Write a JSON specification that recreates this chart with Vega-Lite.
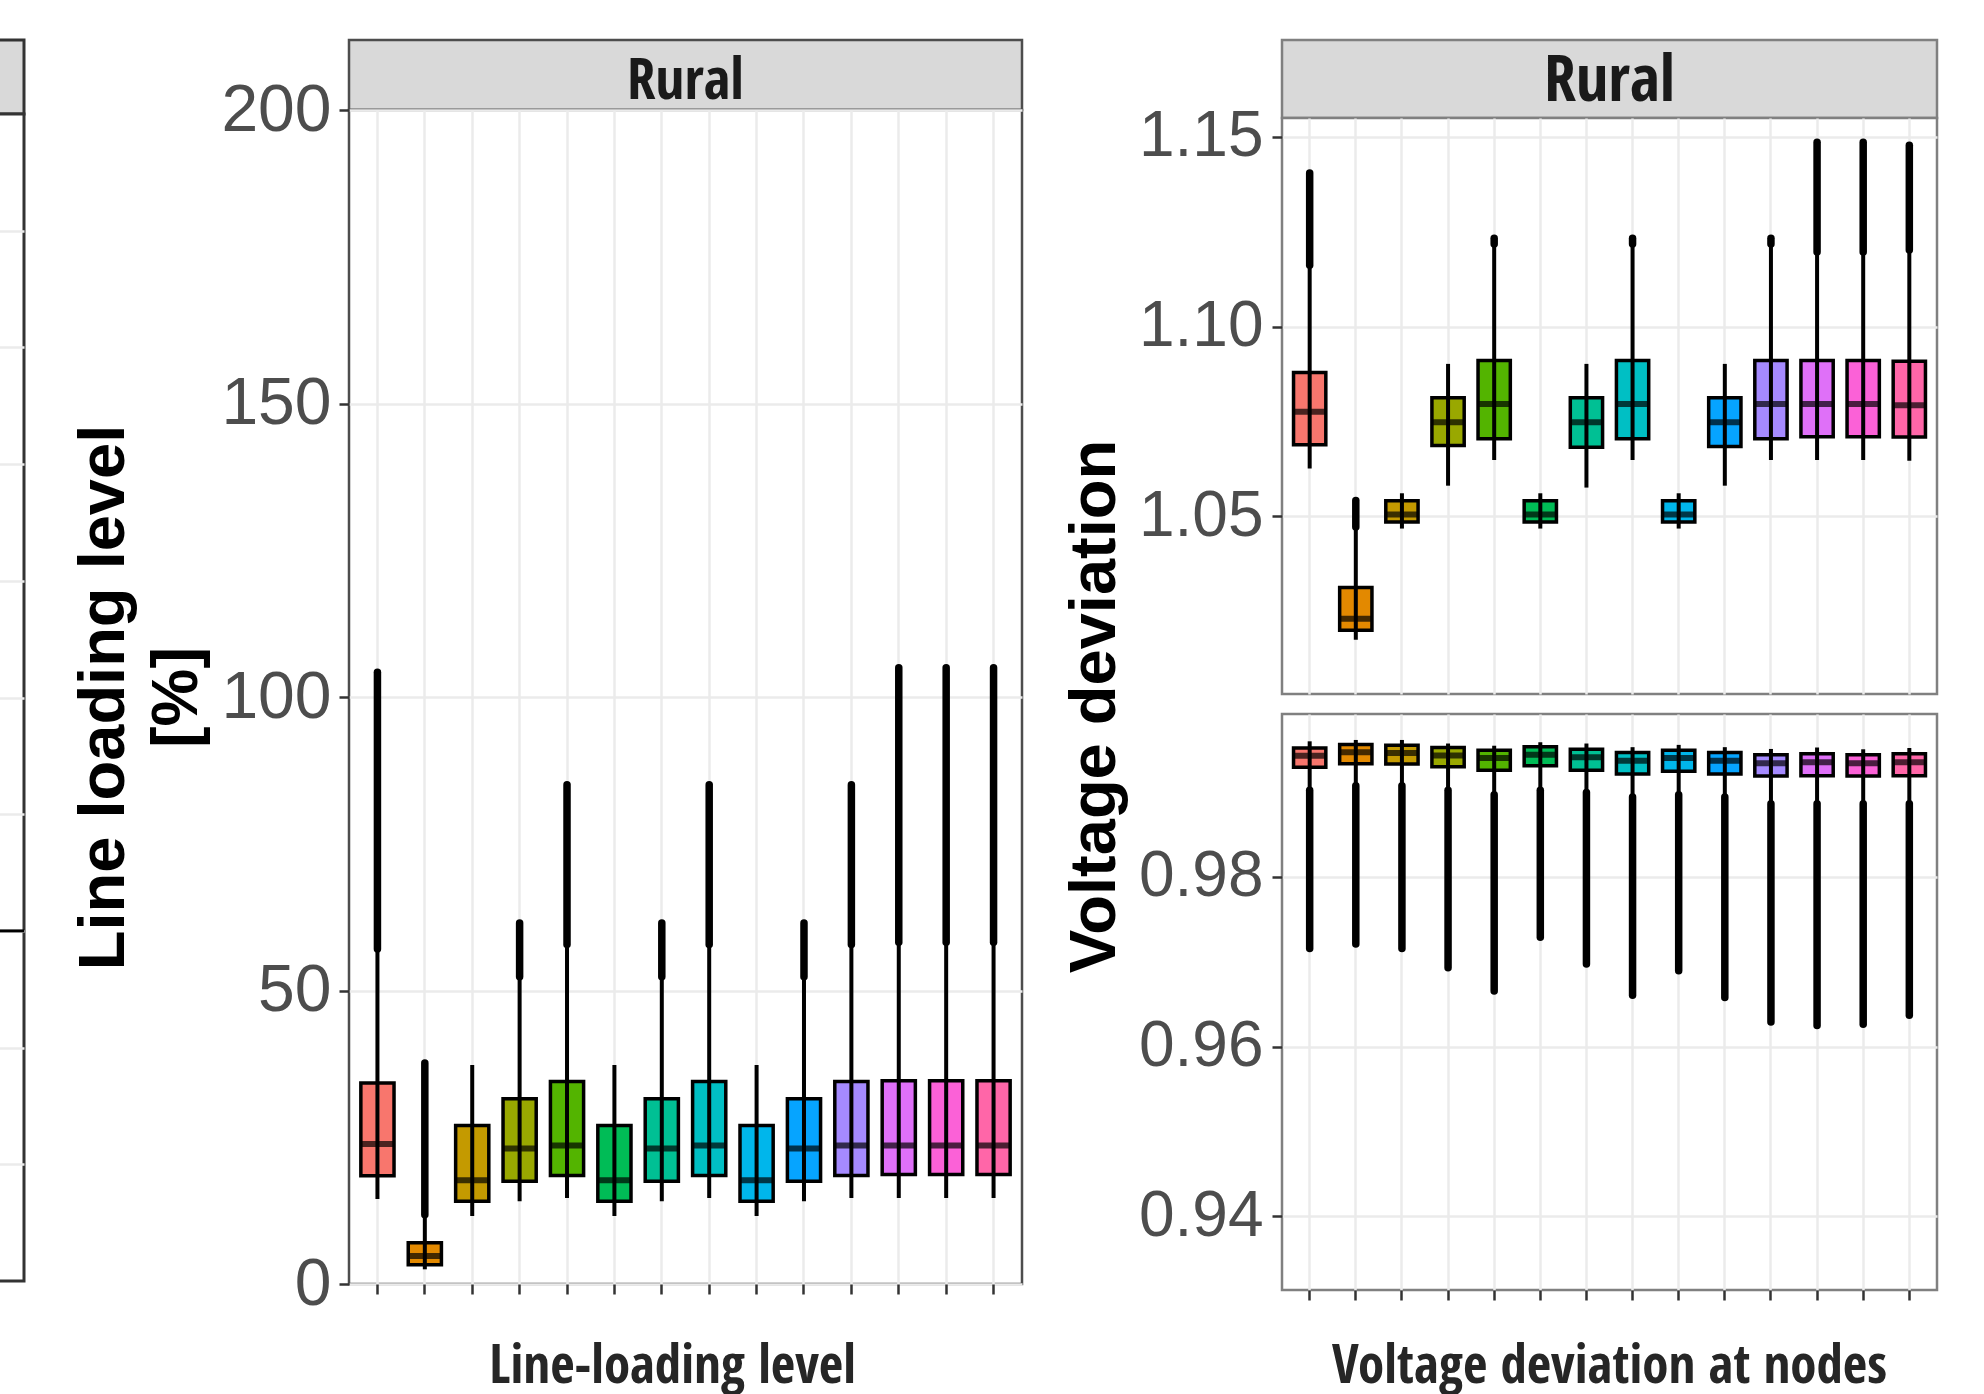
{
  "$schema": "https://vega.github.io/schema/vega-lite/v6.json",
  "background": "white",
  "padding": {"left": -10, "top": 38, "right": 0, "bottom": 0},
  "autosize": {"type": "pad"},
  "config": {
    "axis": {"domain": false, "tickColor": "#333333", "tickWidth": 2.5, "tickSize": 10, "gridColor": "#EBEBEB", "gridWidth": 2.5, "labelFont": "Liberation Sans", "labelFontSize": 64, "labelColor": "#4D4D4D", "labelPadding": 9, "titleFont": "Liberation Sans", "titleFontWeight": "bold", "titleColor": "#000000"}
  },
  "datasets": {
    "line": [
      {"s": "S01", "wlo": 14.48, "q1": 18.43, "med": 23.83, "q3": 34.24, "whi": 57.07, "omax": 104.22},
      {"s": "S02", "wlo": 2.5, "q1": 3.3, "med": 4.77, "q3": 7.04, "whi": 11.81, "omax": 37.67},
      {"s": "S03", "wlo": 11.58, "q1": 14.09, "med": 17.67, "q3": 27.02, "whi": 37.29},
      {"s": "S04", "wlo": 14.09, "q1": 17.51, "med": 23.07, "q3": 31.58, "whi": 52.35, "omax": 61.48},
      {"s": "S05", "wlo": 14.63, "q1": 18.5, "med": 23.59, "q3": 34.48, "whi": 57.82, "omax": 85.05},
      {"s": "S06", "wlo": 11.58, "q1": 14.09, "med": 17.67, "q3": 27.02, "whi": 37.29},
      {"s": "S07", "wlo": 14.09, "q1": 17.51, "med": 23.07, "q3": 31.58, "whi": 52.35, "omax": 61.48},
      {"s": "S08", "wlo": 14.63, "q1": 18.5, "med": 23.59, "q3": 34.48, "whi": 57.82, "omax": 85.05},
      {"s": "S09", "wlo": 11.58, "q1": 14.09, "med": 17.67, "q3": 27.02, "whi": 37.29},
      {"s": "S10", "wlo": 14.09, "q1": 17.51, "med": 23.07, "q3": 31.58, "whi": 52.35, "omax": 61.48},
      {"s": "S11", "wlo": 14.63, "q1": 18.5, "med": 23.59, "q3": 34.48, "whi": 57.82, "omax": 85.05},
      {"s": "S12", "wlo": 14.63, "q1": 18.65, "med": 23.59, "q3": 34.63, "whi": 58.21, "omax": 104.98},
      {"s": "S13", "wlo": 14.63, "q1": 18.65, "med": 23.59, "q3": 34.63, "whi": 58.21, "omax": 104.98},
      {"s": "S14", "wlo": 14.63, "q1": 18.65, "med": 23.59, "q3": 34.63, "whi": 58.21, "omax": 104.98}
    ],
    "vup": [
      {"s": "S01", "wlo": 1.0626, "q1": 1.0689, "med": 1.0776, "q3": 1.0879, "whi": 1.1162, "omax": 1.1405},
      {"s": "S02", "wlo": 1.0175, "q1": 1.02, "med": 1.023, "q3": 1.0313, "whi": 1.0472, "omax": 1.0542},
      {"s": "S03", "wlo": 1.0468, "q1": 1.0485, "med": 1.0505, "q3": 1.0541, "whi": 1.0561},
      {"s": "S04", "wlo": 1.0581, "q1": 1.0687, "med": 1.0748, "q3": 1.0813, "whi": 1.0902},
      {"s": "S05", "wlo": 1.0649, "q1": 1.0705, "med": 1.0796, "q3": 1.0911, "whi": 1.1218, "omax": 1.1233},
      {"s": "S06", "wlo": 1.0468, "q1": 1.0485, "med": 1.0505, "q3": 1.0541, "whi": 1.0561},
      {"s": "S07", "wlo": 1.0576, "q1": 1.0682, "med": 1.0748, "q3": 1.0813, "whi": 1.0902},
      {"s": "S08", "wlo": 1.0649, "q1": 1.0705, "med": 1.0796, "q3": 1.0911, "whi": 1.1218, "omax": 1.1233},
      {"s": "S09", "wlo": 1.0468, "q1": 1.0485, "med": 1.0505, "q3": 1.0541, "whi": 1.0561},
      {"s": "S10", "wlo": 1.0581, "q1": 1.0684, "med": 1.0748, "q3": 1.0813, "whi": 1.0902},
      {"s": "S11", "wlo": 1.0649, "q1": 1.0705, "med": 1.0796, "q3": 1.0911, "whi": 1.1218, "omax": 1.1233},
      {"s": "S12", "wlo": 1.0649, "q1": 1.071, "med": 1.0796, "q3": 1.0911, "whi": 1.1197, "omax": 1.1486},
      {"s": "S13", "wlo": 1.0649, "q1": 1.071, "med": 1.0796, "q3": 1.0911, "whi": 1.1197, "omax": 1.1486},
      {"s": "S14", "wlo": 1.0647, "q1": 1.0709, "med": 1.0793, "q3": 1.0909, "whi": 1.1202, "omax": 1.1478}
    ],
    "vlow": [
      {"s": "S01", "omin": 0.97155, "wlo": 0.9902, "q1": 0.99293, "med": 0.99429, "q3": 0.99519, "whi": 0.99598},
      {"s": "S02", "omin": 0.97208, "wlo": 0.99073, "q1": 0.99335, "med": 0.9947, "q3": 0.99561, "whi": 0.99614},
      {"s": "S03", "omin": 0.97155, "wlo": 0.99073, "q1": 0.99331, "med": 0.9946, "q3": 0.99551, "whi": 0.99614},
      {"s": "S04", "omin": 0.96929, "wlo": 0.9902, "q1": 0.99299, "med": 0.9943, "q3": 0.99525, "whi": 0.99572},
      {"s": "S05", "omin": 0.96656, "wlo": 0.98968, "q1": 0.99256, "med": 0.994, "q3": 0.99493, "whi": 0.99546},
      {"s": "S06", "omin": 0.97287, "wlo": 0.9902, "q1": 0.99309, "med": 0.9944, "q3": 0.99535, "whi": 0.99587},
      {"s": "S07", "omin": 0.96972, "wlo": 0.98994, "q1": 0.99256, "med": 0.9941, "q3": 0.99504, "whi": 0.99572},
      {"s": "S08", "omin": 0.96605, "wlo": 0.98941, "q1": 0.99214, "med": 0.9937, "q3": 0.99467, "whi": 0.99529},
      {"s": "S09", "omin": 0.96893, "wlo": 0.98968, "q1": 0.99246, "med": 0.994, "q3": 0.99493, "whi": 0.99556},
      {"s": "S10", "omin": 0.96578, "wlo": 0.98941, "q1": 0.99214, "med": 0.9937, "q3": 0.99467, "whi": 0.99529},
      {"s": "S11", "omin": 0.96289, "wlo": 0.98862, "q1": 0.99188, "med": 0.9934, "q3": 0.9944, "whi": 0.99508},
      {"s": "S12", "omin": 0.96247, "wlo": 0.98862, "q1": 0.99193, "med": 0.9935, "q3": 0.99451, "whi": 0.99525},
      {"s": "S13", "omin": 0.96262, "wlo": 0.98862, "q1": 0.99188, "med": 0.9934, "q3": 0.9944, "whi": 0.99504},
      {"s": "S14", "omin": 0.96368, "wlo": 0.98862, "q1": 0.99193, "med": 0.9935, "q3": 0.99451, "whi": 0.99519}
    ],
    "strip": [{"t": "Rural"}],
    "blank": [{"t": ""}],
    "sliverline": [{"v": 3}]
  },
  "spacing": 42,
  "hconcat": [
    {
      "bounds": "flush",
      "spacing": 0,
      "vconcat": [
        {
          "width": 31, "height": 74,
          "view": {"fill": "#D9D9D9", "stroke": "#333333", "strokeWidth": 3},
          "data": {"name": "blank"},
          "mark": {"type": "text"},
          "encoding": {"text": {"field": "t"}}
        },
        {
          "width": 31, "height": 1167,
          "view": {"fill": "white", "stroke": "#333333", "strokeWidth": 3},
          "data": {"name": "sliverline"},
          "mark": {"type": "rule", "color": "black", "strokeWidth": 3},
          "encoding": {
            "y": {"field": "v", "type": "quantitative", "scale": {"domain": [0, 10], "nice": false, "zero": false},
                  "axis": {"title": null, "labels": false, "ticks": false, "grid": true, "values": [1, 2, 3, 4, 5, 6, 7, 8, 9]}}
          }
        }
      ]
    },
    {
      "spacing": 36,
      "hconcat": [
        {
          "bounds": "flush",
          "spacing": 0,
          "vconcat": [
            {
              "width": 673, "height": 70,
              "view": {"fill": "#D9D9D9", "stroke": "#4D4D4D", "strokeWidth": 2.5},
              "data": {"name": "strip"},
              "mark": {"type": "text", "font": "Open Sans Condensed, Liberation Sans", "fontSize": 57, "fontWeight": "bold", "color": "#1A1A1A", "baseline": "alphabetic", "dy": 24},
              "encoding": {"text": {"field": "t"}}
            },
            {
              "width": 673, "height": 1174,
              "view": {"fill": "white", "stroke": "#4D4D4D", "strokeWidth": 2.5},
              "data": {"name": "line"},
              "encoding": {
                "x": {"field": "s", "type": "nominal",
                      "scale": {"domain": ["S01","S02","S03","S04","S05","S06","S07","S08","S09","S10","S11","S12","S13","S14"], "paddingInner": 0.3, "paddingOuter": 0.25},
                      "axis": {"title": "Line-loading level", "labels": false, "ticks": true, "grid": true, "bandPosition": 0.5,
                               "titleFont": "Open Sans Condensed, Liberation Sans", "titleFontSize": 53, "titleFontWeight": "bold", "titleColor": "#262626",
                               "titleX": 323, "titleY": 98, "titleBaseline": "alphabetic", "titleAlign": "center"}}
              },
              "layer": [
                {
                  "mark": {"type": "bar", "stroke": "black", "strokeWidth": 3.5},
                  "encoding": {
                    "y": {"field": "q1", "type": "quantitative", "scale": {"domain": [0, 200], "nice": false, "zero": false},
                          "axis": {"title": ["Line loading level", "[%]"], "values": [0, 50, 100, 150, 200], "grid": true, "labelFontSize": 66, "labelPadding": 8,
                                   "titleFontSize": 65, "titleLineHeight": 73, "titleX": -226, "titleY": 587, "titleBaseline": "alphabetic", "titleAlign": "center", "titleAngle": 270}},
                    "y2": {"field": "q3"},
                    "color": {"field": "s", "type": "nominal", "legend": null,
                              "scale": {"domain": ["S01","S02","S03","S04","S05","S06","S07","S08","S09","S10","S11","S12","S13","S14"],
                                        "range": ["#F8766D","#E38900","#C49A00","#99A800","#53B400","#00BC56","#00C094","#00BFC4","#00B6EB","#06A4FF","#A58AFF","#DF70F8","#FB61D7","#FF66A8"]}}
                  }
                },
                {
                  "mark": {"type": "rule", "color": "black", "strokeWidth": 4},
                  "encoding": {"y": {"field": "wlo", "type": "quantitative", "scale": {"domain": [0, 200], "nice": false, "zero": false}}, "y2": {"field": "whi"}}
                },
                {
                  "transform": [{"filter": "isValid(datum.omax)"}],
                  "mark": {"type": "rule", "color": "black", "strokeWidth": 7.5, "strokeCap": "round"},
                  "encoding": {"y": {"field": "whi", "type": "quantitative", "scale": {"domain": [0, 200], "nice": false, "zero": false}}, "y2": {"field": "omax"}}
                },
                {
                  "mark": {"type": "tick", "color": "black", "thickness": 6, "size": 33},
                  "encoding": {"y": {"field": "med", "type": "quantitative", "scale": {"domain": [0, 200], "nice": false, "zero": false}}}
                }
              ]
            }
          ]
        },
        {
          "bounds": "flush",
          "spacing": 0,
          "vconcat": [
            {
              "width": 655, "height": 78,
              "view": {"fill": "#D9D9D9", "stroke": "#808080", "strokeWidth": 2.5},
              "data": {"name": "strip"},
              "mark": {"type": "text", "font": "Open Sans Condensed, Liberation Sans", "fontSize": 64, "fontWeight": "bold", "color": "#1A1A1A", "baseline": "alphabetic", "dy": 22},
              "encoding": {"text": {"field": "t"}}
            },
            {
              "width": 655, "height": 576,
              "view": {"fill": "white", "stroke": "#808080", "strokeWidth": 2.5},
              "data": {"name": "vup"},
              "encoding": {
                "x": {"field": "s", "type": "nominal",
                      "scale": {"domain": ["S01","S02","S03","S04","S05","S06","S07","S08","S09","S10","S11","S12","S13","S14"], "paddingInner": 0.3, "paddingOuter": 0.25},
                      "axis": {"title": null, "labels": false, "ticks": false, "grid": true, "bandPosition": 0.5}}
              },
              "layer": [
                {
                  "mark": {"type": "bar", "stroke": "black", "strokeWidth": 3.5},
                  "encoding": {
                    "y": {"field": "q1", "type": "quantitative", "scale": {"domain": [1.0032, 1.155], "nice": false, "zero": false},
                          "axis": {"title": "Voltage deviation", "values": [1.05, 1.1, 1.15], "format": ".2f", "grid": true,
                                   "titleFontSize": 65, "titleX": -168, "titleY": 588, "titleBaseline": "alphabetic", "titleAlign": "center", "titleAngle": 270}},
                    "y2": {"field": "q3"},
                    "color": {"field": "s", "type": "nominal", "legend": null,
                              "scale": {"domain": ["S01","S02","S03","S04","S05","S06","S07","S08","S09","S10","S11","S12","S13","S14"],
                                        "range": ["#F8766D","#E38900","#C49A00","#99A800","#53B400","#00BC56","#00C094","#00BFC4","#00B6EB","#06A4FF","#A58AFF","#DF70F8","#FB61D7","#FF66A8"]}}
                  }
                },
                {
                  "mark": {"type": "rule", "color": "black", "strokeWidth": 4},
                  "encoding": {"y": {"field": "wlo", "type": "quantitative", "scale": {"domain": [1.0032, 1.155], "nice": false, "zero": false}}, "y2": {"field": "whi"}}
                },
                {
                  "transform": [{"filter": "isValid(datum.omax)"}],
                  "mark": {"type": "rule", "color": "black", "strokeWidth": 7.5, "strokeCap": "round"},
                  "encoding": {"y": {"field": "whi", "type": "quantitative", "scale": {"domain": [1.0032, 1.155], "nice": false, "zero": false}}, "y2": {"field": "omax"}}
                },
                {
                  "mark": {"type": "tick", "color": "black", "thickness": 6, "size": 32},
                  "encoding": {"y": {"field": "med", "type": "quantitative", "scale": {"domain": [1.0032, 1.155], "nice": false, "zero": false}}}
                }
              ]
            },
            {
              "width": 655, "height": 20,
              "view": {"fill": null, "stroke": null},
              "data": {"name": "blank"},
              "mark": {"type": "text"},
              "encoding": {"text": {"field": "t"}}
            },
            {
              "width": 655, "height": 576,
              "view": {"fill": "white", "stroke": "#808080", "strokeWidth": 2.5},
              "data": {"name": "vlow"},
              "encoding": {
                "x": {"field": "s", "type": "nominal",
                      "scale": {"domain": ["S01","S02","S03","S04","S05","S06","S07","S08","S09","S10","S11","S12","S13","S14"], "paddingInner": 0.3, "paddingOuter": 0.25},
                      "axis": {"title": "Voltage deviation at nodes", "labels": false, "ticks": true, "grid": true, "bandPosition": 0.5,
                               "titleFont": "Open Sans Condensed, Liberation Sans", "titleFontSize": 53, "titleFontWeight": "bold", "titleColor": "#262626",
                               "titleX": 327, "titleY": 92, "titleBaseline": "alphabetic", "titleAlign": "center"}}
              },
              "layer": [
                {
                  "mark": {"type": "bar", "stroke": "black", "strokeWidth": 3.5},
                  "encoding": {
                    "y": {"field": "q1", "type": "quantitative", "scale": {"domain": [0.9313, 0.9992], "nice": false, "zero": false},
                          "axis": {"title": null, "values": [0.94, 0.96, 0.98], "format": ".2f", "grid": true}},
                    "y2": {"field": "q3"},
                    "color": {"field": "s", "type": "nominal", "legend": null,
                              "scale": {"domain": ["S01","S02","S03","S04","S05","S06","S07","S08","S09","S10","S11","S12","S13","S14"],
                                        "range": ["#F8766D","#E38900","#C49A00","#99A800","#53B400","#00BC56","#00C094","#00BFC4","#00B6EB","#06A4FF","#A58AFF","#DF70F8","#FB61D7","#FF66A8"]}}
                  }
                },
                {
                  "mark": {"type": "rule", "color": "black", "strokeWidth": 4},
                  "encoding": {"y": {"field": "wlo", "type": "quantitative", "scale": {"domain": [0.9313, 0.9992], "nice": false, "zero": false}}, "y2": {"field": "whi"}}
                },
                {
                  "mark": {"type": "rule", "color": "black", "strokeWidth": 7.5, "strokeCap": "round"},
                  "encoding": {"y": {"field": "omin", "type": "quantitative", "scale": {"domain": [0.9313, 0.9992], "nice": false, "zero": false}}, "y2": {"field": "wlo"}}
                },
                {
                  "mark": {"type": "tick", "color": "black", "thickness": 6, "size": 32},
                  "encoding": {"y": {"field": "med", "type": "quantitative", "scale": {"domain": [0.9313, 0.9992], "nice": false, "zero": false}}}
                }
              ]
            }
          ]
        }
      ]
    }
  ]
}
